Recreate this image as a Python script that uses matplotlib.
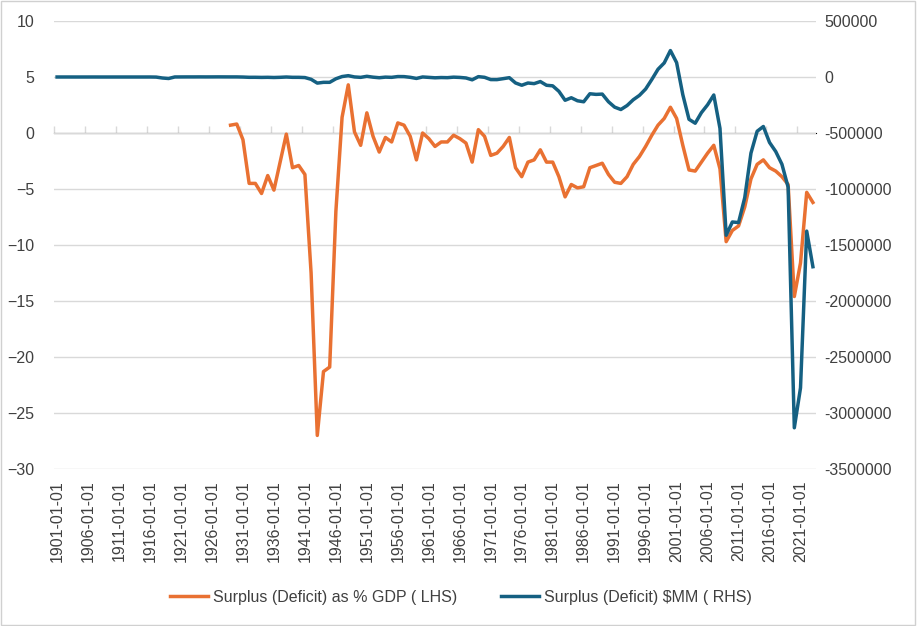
import numpy as np
import matplotlib
matplotlib.use('Agg')
import matplotlib.pyplot as plt
from matplotlib.patches import Rectangle

years = list(range(1901, 2024))
tick_labels = [f'{y}-01-01' for y in years]

# Surplus (Deficit) as % GDP, starts 1929
pct_start = 1929
pct_gdp = [
    0.7, 0.8, -0.6, -4.5, -4.5, -5.4, -3.8, -5.1, -2.6, -0.1,
    -3.1, -2.9, -3.7, -12.5, -27.0, -21.3, -20.9, -7.0, 1.4, 4.3,
    0.1, -1.1, 1.8, -0.3, -1.7, -0.4, -0.8, 0.9, 0.7, -0.3,
    -2.4, 0.0, -0.5, -1.2, -0.8, -0.8, -0.2, -0.5, -0.9, -2.6,
    0.3, -0.3, -2.0, -1.8, -1.2, -0.4, -3.1, -3.9, -2.6, -2.4,
    -1.5, -2.6, -2.6, -3.9, -5.7, -4.6, -4.9, -4.8, -3.1, -2.9,
    -2.7, -3.7, -4.4, -4.5, -3.9, -2.8, -2.1, -1.2, -0.2, 0.7,
    1.3, 2.3, 1.3, -1.1, -3.3, -3.4, -2.6, -1.8, -1.1, -3.2,
    -9.7, -8.7, -8.3, -6.6, -4.1, -2.8, -2.4, -3.1, -3.4, -3.9,
    -4.6, -14.6, -11.6, -5.3, -6.2,
]

# Surplus (Deficit) $MM, 1901-2023
surplus_mm = [
    63, 77, 45, -43, -23, 25, 87, -57, -89, -18,
    11, 3, 0, -1, -63, 48, -853, -9032, -13363, 291,
    509, 736, 713, 963, 717, 865, 1155, 939, 734, 738,
    -462, -2735, -2602, -3630, -2791, -4425, -2777, -89, -2846, -2920,
    -4941, -20503, -54554, -47557, -47553, -15936, 4018, 11796, 580, -3119,
    6102, -1519, -6493, -1154, -2993, 3947, 3412, -2769, -12849, 301,
    -3335, -7146, -4756, -5915, -1411, -3698, -8643, -25161, 3242, -2842,
    -23033, -23373, -14908, -6135, -53242, -73732, -53659, -59185, -40726, -73830,
    -78968, -127977, -207802, -185367, -212308, -221227, -149730, -155178, -152639, -221036,
    -269238, -290321, -255051, -203186, -163952, -107431, -21884, 69270, 125610, 236241,
    128236, -157758, -377585, -412727, -318346, -248181, -160701, -458553, -1412688, -1294373,
    -1299599, -1076573, -679775, -484602, -441960, -584651, -665446, -779137, -983592, -3131917,
    -2775306, -1375906, -1693870,
]

orange = '#E97132'
blue = '#156082'
text_color = '#404040'
grid_color = '#D9D9D9'

plt.rcParams['font.family'] = ['Liberation Sans', 'DejaVu Sans']
plt.rcParams['font.size'] = 11.5

x = np.arange(len(years))
pct_full = np.full(len(years), np.nan)
pct_full[pct_start - years[0]:] = pct_gdp

fig = plt.figure(figsize=(9.18, 6.26), dpi=100)
ax = fig.add_axes([54 / 918, 1 - 469 / 626, (816 - 54) / 918, (469 - 21) / 626])
ax2 = ax.twinx()

l1, = ax.plot(x, pct_full, color=orange, lw=2.5, solid_joinstyle='round',
              label='Surplus (Deficit) as % GDP ( LHS)')
l2, = ax2.plot(x, surplus_mm, color=blue, lw=2.5, solid_joinstyle='round',
               label='Surplus (Deficit) $MM ( RHS)')

ax.set_xlim(-0.5, len(years) - 0.5)
ax.set_ylim(-30, 10)
ax.set_yticks(range(-30, 11, 5))
ax2.set_ylim(-3500000, 500000)
ax2.set_yticks(range(-3500000, 500001, 500000))
ax2.set_yticklabels([str(v) for v in range(-3500000, 500001, 500000)])

ax.set_xticks(x[::5])
ax.set_xticklabels(tick_labels[::5], rotation=90)
ax.tick_params(axis='x', length=0, pad=8, colors=text_color)
ax.tick_params(axis='y', length=0, pad=14, colors=text_color)
ax2.tick_params(axis='y', length=0, pad=6, colors=text_color)

ax.grid(axis='y', color=grid_color, lw=1)
ax.set_axisbelow(True)
for a in (ax, ax2):
    for s in a.spines.values():
        s.set_visible(False)

# category axis crosses at 0 with tick marks between categories
sec = ax.secondary_xaxis(0.75)
sec.set_xticks(np.arange(-0.5, len(years), 5))
sec.set_xticklabels([])
sec.tick_params(axis='x', length=5, width=1, color=grid_color, direction='out')
sec.spines['bottom'].set_color(grid_color)
sec.spines['bottom'].set_linewidth(1)

fig.legend(handles=[l1, l2], loc='center', bbox_to_anchor=(0.502, 0.046), ncol=2,
           frameon=False, handlelength=2.4, handletextpad=0.3, columnspacing=2.7,
           labelcolor=text_color)

fig.patches.append(Rectangle((0.001, 0.001), 0.996, 0.997, transform=fig.transFigure,
                             fill=False, edgecolor='#D0D0D0', lw=1))

fig.savefig('out.png', dpi=100)
